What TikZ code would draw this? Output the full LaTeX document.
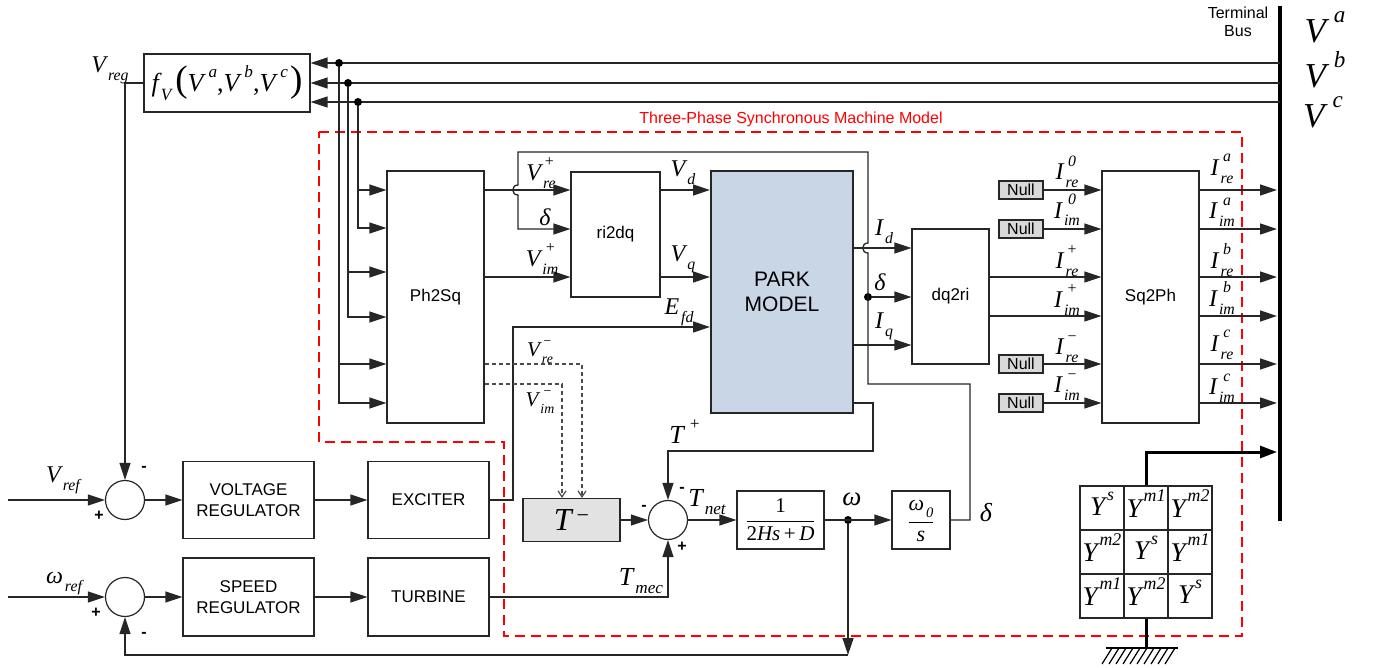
\documentclass[tikz,border=0pt]{standalone}
\usepackage{fontspec}
\usepackage{amsmath}
\setmainfont{Liberation Sans}
\newfontfamily\tms{Liberation Serif}
\usetikzlibrary{arrows.meta}
\makeatletter
\newdimen\subsz
\newcommand\sbs{\subsz=\f@size pt\subsz=0.66\subsz\fontsize{\strip@pt\subsz}{\strip@pt\subsz}\selectfont}
\makeatother
\newcommand\ml[3]{{\itshape #1}\kern2pt{\sbs\itshape\setbox0=\hbox{#2}\setbox2=\hbox{#3}\dimen0=\wd0 \ifdim\wd2>\dimen0 \dimen0=\wd2 \fi\rlap{\hbox to\dimen0{\hss\raise0.85em\box2\hss}}\hbox to\dimen0{\hss\lower0.5em\box0\hss}}}
\definecolor{parkblue}{RGB}{200,214,230}
\definecolor{nullgray}{RGB}{217,217,217}
\definecolor{tgray}{RGB}{226,226,226}
\tikzset{
 ln/.style={line width=1.3pt, draw=black!85},
 arr/.style={ln, -{Triangle[length=17pt,width=11pt]}},
 dsh/.style={line width=1.2pt, draw=black!70, dash pattern=on 4pt off 3pt, -{Straight Barb[length=6pt,width=8pt]}},
 blk/.style={draw=black!85, line width=1.2pt, inner sep=0pt, align=center, font=\fontsize{17}{21}\selectfont},
 nullbox/.style={blk, fill=nullgray, minimum width=44pt, minimum height=18pt, font=\fontsize{16}{16}\selectfont},
 lbl/.style={inner sep=0pt, font=\tms\fontsize{24}{24}\selectfont},
 sumj/.style={circle, draw=black!85, line width=1.2pt, minimum size=39pt, inner sep=0pt},
 sgn/.style={inner sep=0pt, font=\fontsize{16}{16}\selectfont\bfseries},
 jdot/.style={circle, fill=black, minimum size=8pt, inner sep=0pt},
 ycell/.style={draw=black!85, line width=1.1pt, minimum size=44pt, inner sep=0pt, font=\tms\fontsize{27}{27}\selectfont},
}
\begin{document}
\begin{tikzpicture}[x=1pt,y=-1pt]
\useasboundingbox (0,0) rectangle (1373,668);
% red dashed region
\draw[red, line width=1.4pt, dash pattern=on 10pt off 6pt] (319,132) -- (1242,132) -- (1242,636) -- (504,636) -- (504,442) -- (319,442) -- cycle;
\node[inner sep=0pt, text=red, font=\fontsize{16}{16}\selectfont] (title) at (791,119) {Three-Phase Synchronous Machine Model};
% terminal bus
\coordinate (bt) at (1280,6);
\coordinate (bb) at (1280,521);
\coordinate (bus) at (1277,0);
\draw[line width=4.5pt] (bt) -- (bb);
\node[align=center, inner sep=0pt, font=\fontsize{16}{18}\selectfont] (tbus) at (1238,22) {Terminal\\Bus};
\node[inner sep=0pt, font=\tms\fontsize{35}{35}\selectfont] (lva) at (1325,33) {\ml{V}{}{\kern6pt a}};
\node[inner sep=0pt, font=\tms\fontsize{35}{35}\selectfont] (lvb) at (1325,75) {\ml{V}{}{\kern6pt b}};
\node[inner sep=0pt, font=\tms\fontsize{35}{35}\selectfont] (lvc) at (1323,118) {\ml{V}{}{\kern6pt c}};
% blocks
\node[blk, minimum width=166pt, minimum height=58pt, font=\tms\fontsize{26}{26}\selectfont] (fv) at (227,83)
 {\ml{f}{V}{}\kern4pt{\fontsize{37}{37}\selectfont(}\ml{V}{}{\kern3pt a},\ml{V}{}{\kern3pt b},\ml{V}{}{\kern3pt c}\kern2pt{\fontsize{37}{37}\selectfont)}};
\node[blk, minimum width=97pt, minimum height=252pt] (ph2sq) at (435.5,297) {Ph2Sq};
\node[blk, minimum width=89pt, minimum height=125pt] (ri2dq) at (615.5,234.5) {ri2dq};
\node[blk, fill=parkblue, line width=2pt, minimum width=142pt, minimum height=242pt, font=\fontsize{21}{25}\selectfont] (park) at (782,292) {PARK\\MODEL};
\node[blk, minimum width=77pt, minimum height=135pt] (dq2ri) at (950.5,296.5) {dq2ri};
\node[blk, minimum width=97pt, minimum height=252pt] (sq2ph) at (1150.5,297) {Sq2Ph};
\node[nullbox] (n1) at (1021,190) {Null};
\node[nullbox] (n2) at (1021,229) {Null};
\node[nullbox] (n3) at (1021,364) {Null};
\node[nullbox] (n4) at (1021,403) {Null};
\node[sumj] (sum1) at (125,500) {};
\node[sumj] (sum2) at (125,597) {};
\node[blk, minimum width=131pt, minimum height=77pt] (vrb) at (248.5,500) {VOLTAGE\\REGULATOR};
\node[blk, minimum width=121pt, minimum height=77pt] (exc) at (428.5,500) {EXCITER};
\node[blk, minimum width=131pt, minimum height=78pt] (spd) at (248.5,597) {SPEED\\REGULATOR};
\node[blk, minimum width=121pt, minimum height=78pt] (turb) at (428.5,597) {TURBINE};
\node[blk, fill=tgray, minimum width=97pt, minimum height=43pt, font=\tms\fontsize{32}{32}\selectfont] (tminus) at (571.5,520) {{\itshape T}\kern5pt\raisebox{8pt}{\fontsize{22}{22}\selectfont −}};
\node[sumj] (sum3) at (668,520) {};
\node[blk, minimum width=87pt, minimum height=58pt, font=\tms\fontsize{21}{21}\selectfont] (gain) at (780.5,520)
 {$\genfrac{}{}{1.4pt}{0}{\hbox{1}}{\hbox{2\itshape Hs\upshape\,+\,\itshape D}}$};
\node[blk, minimum width=58pt, minimum height=58pt, font=\tms\fontsize{22}{22}\selectfont] (integ) at (921,520)
 {$\genfrac{}{}{1.4pt}{0}{\hbox{\ml{ω}{0}{}}}{\hbox{\itshape s}}$};
% matrix
\node[ycell] (m11) at (1102,508) {\ml{Y}{}{s}};
\node[ycell] (m12) at (1146,508) {\ml{Y}{}{m1}};
\node[ycell] (m13) at (1190,508) {\ml{Y}{}{m2}};
\node[ycell] (m21) at (1102,552) {\ml{Y}{}{m2}};
\node[ycell] (m22) at (1146,552) {\ml{Y}{}{s}};
\node[ycell] (m23) at (1190,552) {\ml{Y}{}{m1}};
\node[ycell] (m31) at (1102,596) {\ml{Y}{}{m1}};
\node[ycell] (m32) at (1146,596) {\ml{Y}{}{m2}};
\node[ycell] (m33) at (1190,596) {\ml{Y}{}{s}};
\coordinate (gnd) at (1146,648);
\draw[line width=3pt, -{Triangle[length=17pt,width=12pt]}] (m12.north) |- (bus |- 0,452);
\draw[line width=3pt] (m32.south) -- (gnd);
\draw[line width=1.2pt] (1106,648) -- (1178,648);
\foreach \k in {0,...,9} \draw[line width=1.2pt] (1112+7*\k,648) -- (1102+7*\k,664);
% bus to fV
\coordinate (ba) at (1280,63);
\coordinate (bbb) at (1280,83);
\coordinate (bc) at (1280,102);
\draw[arr] (ba) -- (ba -| fv.east);
\draw[arr] (bbb) -- (bbb -| fv.east);
\draw[arr] (bc) -- (bc -| fv.east);
\node[jdot] (da) at (339,63) {};
\node[jdot] (db) at (348,83) {};
\node[jdot] (dc) at (358,102) {};
\draw[arr] (dc) |- (ph2sq.west |- 0,228);
\draw[arr] (dc |- 0,190) -- (ph2sq.west |- 0,190);
\draw[arr] (db) |- (ph2sq.west |- 0,317);
\draw[arr] (db |- 0,272) -- (ph2sq.west |- 0,272);
\draw[arr] (da) |- (ph2sq.west |- 0,403);
\draw[arr] (da |- 0,364) -- (ph2sq.west |- 0,364);
% Ph2Sq to ri2dq
\draw[arr] (ph2sq.east |- 0,190) -- (ri2dq.west |- 0,190);
\draw[arr] (ph2sq.east |- 0,277) -- (ri2dq.west |- 0,277);
% ri2dq to park
\draw[arr] (ri2dq.east |- 0,190) -- (park.west |- 0,190);
\draw[arr] (ri2dq.east |- 0,277) -- (park.west |- 0,277);
% Efd
\draw[arr] (exc.east) -- (513,500) |- (park.west |- 0,327);
% delta loop
\node[jdot] (ddot) at (868,297) {};
\draw[arr] (integ.east) -- (970,520) -- (970,384) -- (868,384) -- (868,253) .. controls (861,253) and (861,243) .. (868,243) -- (868,152) -- (518,152) -- (518,185) .. controls (511,185) and (511,195) .. (518,195) |- (ri2dq.west |- 0,229);
\draw[arr] (ddot) -- (dq2ri.west |- ddot);
% park to dq2ri
\draw[arr] (park.east |- 0,248) -- (dq2ri.west |- 0,248);
\draw[arr] (park.east |- 0,345) -- (dq2ri.west |- 0,345);
% dq2ri to sq2ph
\draw[arr] (dq2ri.east |- 0,277) -- (sq2ph.west |- 0,277);
\draw[arr] (dq2ri.east |- 0,316) -- (sq2ph.west |- 0,316);
\draw[arr] (n1.east) -- (sq2ph.west |- n1);
\draw[arr] (n2.east) -- (sq2ph.west |- n2);
\draw[arr] (n3.east) -- (sq2ph.west |- n3);
\draw[arr] (n4.east) -- (sq2ph.west |- n4);
% sq2ph to bus
\foreach \yy in {190,229,277,316,364,403} \draw[arr] (sq2ph.east |- 0,\yy) -- (bus |- 0,\yy);
% T+ path
\draw[arr] (park.east |- 0,403) -- (873,403) -- (873,451) -| (sum3.north);
\draw[arr] (tminus.east) -- (sum3.west);
\draw[arr] (turb.east) -| (sum3.south);
\draw[arr] (sum3.east) -- (gain.west);
\node[jdot] (wdot) at (848,520) {};
\draw[arr] (gain.east) -- (integ.west);
\coordinate (fb) at (848,655);
\draw[arr] (wdot) -- (fb);
\draw[arr] (fb) -| (sum2.south);
% negative-seq dashed
\draw[dsh] (ph2sq.east |- 0,364) -| (tminus.north -| 582,0);
\draw[dsh] (ph2sq.east |- 0,384) -| (tminus.north -| 562,0);
% controls
\coordinate (vin) at (8,500);
\coordinate (win) at (8,597);
\draw[arr] (vin) -- (sum1.west);
\draw[arr] (win) -- (sum2.west);
\draw[arr] (fv.west) -| (sum1.north);
\draw[arr] (sum1.east) -- (vrb.west);
\draw[arr] (vrb.east) -- (exc.west);
\draw[arr] (sum2.east) -- (spd.west);
\draw[arr] (spd.east) -- (turb.west);
% signs
\node[sgn] (s1a) at (144,469) {-};
\node[sgn] (s1b) at (99,516) {+};
\node[sgn] (s2a) at (96,613) {+};
\node[sgn] (s2b) at (144,635) {-};
\node[sgn] (s3a) at (644,508) {-};
\node[sgn] (s3b) at (682,490) {-};
\node[sgn] (s3c) at (682,547) {+};
% labels
\node[lbl] (lvreg) at (110,70) {\ml{V}{reg}{}};
\node[lbl] (lvref) at (63,480) {\ml{V}{ref}{}};
\node[lbl] (lwref) at (64,582) {\ml{ω}{ref}{}};
\node[lbl] (lvrep) at (541,173) {\ml{V}{re}{+}};
\node[lbl] (ldel1) at (545,217) {\itshape δ};
\node[lbl] (lvimp) at (542,259) {\ml{V}{im}{+}};
\node[lbl] (lvd) at (683,173) {\ml{V}{d}{}};
\node[lbl] (lvq) at (683,259) {\ml{V}{q}{}};
\node[lbl] (lefd) at (679,312) {\ml{E}{fd}{}};
\node[lbl] (lid) at (884,232) {\ml{I}{d}{}};
\node[lbl] (ldel2) at (880,282) {\itshape δ};
\node[lbl] (liq) at (884,326) {\ml{I}{q}{}};
\node[lbl] (li1) at (1067,172) {\ml{I}{re}{0}};
\node[lbl] (li2) at (1067,210) {\ml{I}{im}{0}};
\node[lbl] (li3) at (1067,261) {\ml{I}{re}{+}};
\node[lbl] (li4) at (1067,300) {\ml{I}{im}{+}};
\node[lbl] (li5) at (1067,349) {\ml{I}{re}{−}};
\node[lbl] (li6) at (1067,387) {\ml{I}{im}{−}};
\node[lbl] (lo1) at (1222,169) {\ml{I}{re}{a}};
\node[lbl] (lo2) at (1222,212) {\ml{I}{im}{a}};
\node[lbl] (lo3) at (1222,260) {\ml{I}{re}{b}};
\node[lbl] (lo4) at (1222,298) {\ml{I}{im}{b}};
\node[lbl] (lo5) at (1222,345) {\ml{I}{re}{c}};
\node[lbl] (lo6) at (1222,388) {\ml{I}{im}{c}};
\node[lbl, font=\tms\fontsize{21}{21}\selectfont] (lvrem) at (540,352) {\ml{V}{re}{−}};
\node[lbl, font=\tms\fontsize{21}{21}\selectfont] (lvimm) at (540,402) {\ml{V}{im}{−}};
\node[lbl, font=\tms\fontsize{26}{26}\selectfont] (ltp) at (685,436) {\ml{T}{}{\kern3pt+}};
\node[lbl, font=\tms\fontsize{26}{26}\selectfont] (ltnet) at (707,502) {\ml{T}{net}{}};
\node[lbl, font=\tms\fontsize{26}{26}\selectfont] (ltmec) at (641,581) {\ml{T}{mec}{}};
\node[lbl, font=\tms\fontsize{27}{27}\selectfont] (lw) at (852,499) {\itshape ω};
\node[lbl, font=\tms\fontsize{26}{26}\selectfont] (ldel3) at (986,513) {\itshape δ};
\end{tikzpicture}
\end{document}
